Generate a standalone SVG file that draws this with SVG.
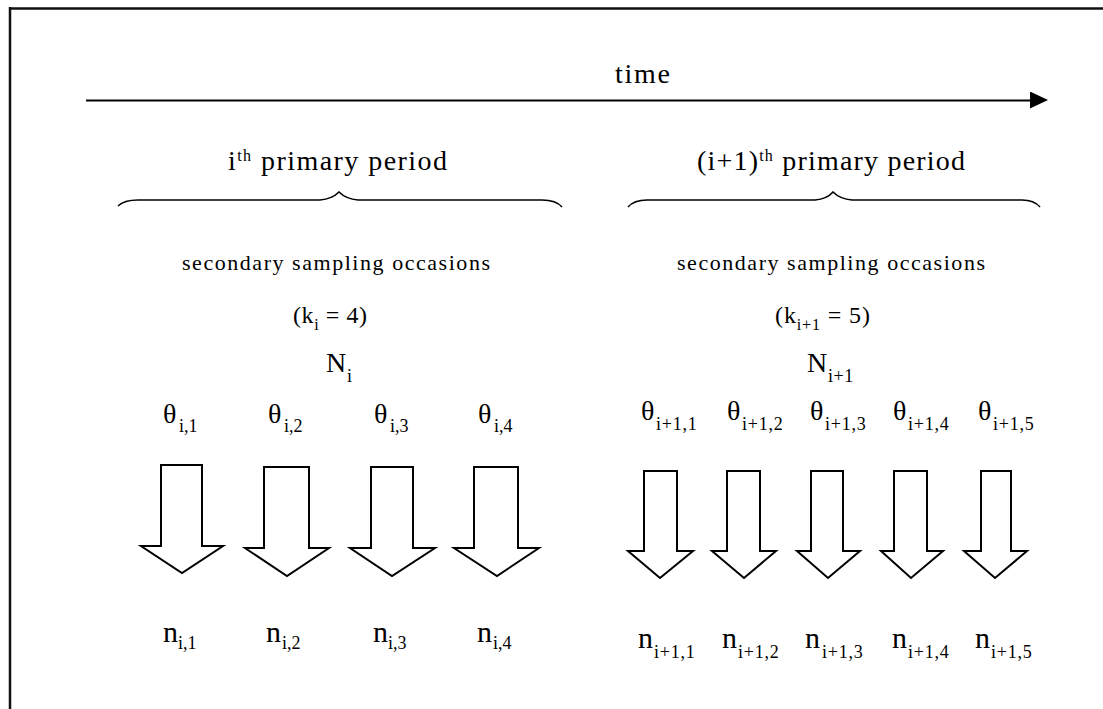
<svg xmlns="http://www.w3.org/2000/svg" width="1103" height="709" viewBox="0 0 1103 709">
  <style>
    text { font-family: "Liberation Serif", "Times New Roman", serif; fill: #000; }
    .hdr { font-size: 28px; }
    .sup { font-size: 16px; }
    .sec { font-size: 22px; }
    .kk { font-size: 24px; }
    .ksub { font-size: 16px; }
    .big { font-size: 30px; }
    .cap { font-size: 28px; }
    .sym { font-size: 28px; }
    .sub { font-size: 18px; }
    .frame { stroke: #111; stroke-width: 2.5; fill: none; }
    .axis { stroke: #000; stroke-width: 2; fill: none; }
    .brace { stroke: #000; stroke-width: 1.6; fill: none; }
    .block { stroke: #000; stroke-width: 2; fill: #fff; stroke-linejoin: miter; }
  </style>
  <defs>
    <marker id="tip" markerUnits="userSpaceOnUse" markerWidth="20" markerHeight="20" refX="2" refY="9" orient="auto">
      <polygon points="0,0 18,8.5 0,17" fill="#000"/>
    </marker>
  </defs>

  <rect width="1103" height="709" fill="#fff"/>

  <!-- frame: top and left edges -->
  <g id="frame">
    <line class="frame" x1="9" y1="8.5" x2="1103" y2="8.5"/>
    <line class="frame" x1="10" y1="7" x2="10" y2="709"/>
  </g>

  <!-- time axis label -->
  <g id="time-label">
    <text class="hdr" x="615" y="83" textLength="55" lengthAdjust="spacing">time</text>
  </g>

  <!-- primary period headings -->
  <g id="period-i">
    <text class="hdr" x="228" y="170" textLength="219" lengthAdjust="spacing">i<tspan class="sup" dy="-9">th</tspan><tspan dy="9"> primary period</tspan></text>
    <path class="brace" d="M118,206 Q124,200 138,200 L320,200 Q332,199 339,192 Q346,199 358,200 L542,200 Q556,200 562,207"/>
  </g>
  <g id="period-i1">
    <text class="hdr" x="697" y="170" textLength="268" lengthAdjust="spacing">(i+1)<tspan class="sup" dy="-9">th</tspan><tspan dy="9"> primary period</tspan></text>
    <path class="brace" d="M628,207 Q634,200 647,200 L815,200 Q827,199 833,192 Q840,199 852,200 L1022,200 Q1034,200 1040,207"/>
  </g>

  <!-- secondary sampling occasions -->
  <g id="secondary-i">
    <text class="sec" x="182" y="270" textLength="308" lengthAdjust="spacing">secondary sampling occasions</text>
    <text class="kk" x="293" y="323" textLength="74" lengthAdjust="spacing">(k<tspan class="ksub" dy="7">i</tspan><tspan dy="-7"> = 4)</tspan></text>
  </g>
  <g id="secondary-i1">
    <text class="sec" x="677" y="270" textLength="308" lengthAdjust="spacing">secondary sampling occasions</text>
    <text class="kk" x="775" y="323" textLength="95" lengthAdjust="spacing">(k<tspan class="ksub" dy="7">i+1</tspan><tspan dy="-7"> = 5)</tspan></text>
  </g>

  <!-- population sizes -->
  <g id="N-i">
    <text class="cap" x="326" y="372">N<tspan class="sub" x="347" y="382">i</tspan></text>
  </g>
  <g id="N-i1">
    <text class="cap" x="807" y="372">N<tspan class="sub" x="828" y="382" letter-spacing="0.5">i+1</tspan></text>
  </g>

  <!-- capture probabilities, period i -->
  <g id="theta-i">
    <text class="sym" x="163" y="423">θ<tspan class="sub" x="179" y="432">i,1</tspan></text>
    <text class="sym" x="268" y="423">θ<tspan class="sub" x="284" y="432">i,2</tspan></text>
    <text class="sym" x="374" y="423">θ<tspan class="sub" x="390" y="432">i,3</tspan></text>
    <text class="sym" x="478" y="423">θ<tspan class="sub" x="494" y="432">i,4</tspan></text>
  </g>
  <!-- capture probabilities, period i+1 -->
  <g id="theta-i1">
    <text class="sym" x="641" y="420">θ<tspan class="sub" x="656" y="430" letter-spacing="0.8">i+1,1</tspan></text>
    <text class="sym" x="727" y="420">θ<tspan class="sub" x="742" y="430" letter-spacing="0.8">i+1,2</tspan></text>
    <text class="sym" x="810" y="420">θ<tspan class="sub" x="825" y="430" letter-spacing="0.8">i+1,3</tspan></text>
    <text class="sym" x="893" y="420">θ<tspan class="sub" x="908" y="430" letter-spacing="0.8">i+1,4</tspan></text>
    <text class="sym" x="978" y="420">θ<tspan class="sub" x="993" y="430" letter-spacing="0.8">i+1,5</tspan></text>
  </g>

  <!-- captured counts, period i -->
  <g id="n-i">
    <text class="big" x="163" y="642">n<tspan class="sub" x="178" y="649">i,1</tspan></text>
    <text class="big" x="266" y="642">n<tspan class="sub" x="282" y="649">i,2</tspan></text>
    <text class="big" x="373" y="642">n<tspan class="sub" x="388" y="649">i,3</tspan></text>
    <text class="big" x="477" y="642">n<tspan class="sub" x="493" y="649">i,4</tspan></text>
  </g>
  <!-- captured counts, period i+1 -->
  <g id="n-i1">
    <text class="big" x="638" y="648">n<tspan class="sub" x="654" y="658" letter-spacing="0.8">i+1,1</tspan></text>
    <text class="big" x="722" y="648">n<tspan class="sub" x="738" y="658" letter-spacing="0.8">i+1,2</tspan></text>
    <text class="big" x="805" y="648">n<tspan class="sub" x="822" y="658" letter-spacing="0.8">i+1,3</tspan></text>
    <text class="big" x="892" y="648">n<tspan class="sub" x="908" y="658" letter-spacing="0.8">i+1,4</tspan></text>
    <text class="big" x="975" y="648">n<tspan class="sub" x="991" y="658" letter-spacing="0.8">i+1,5</tspan></text>
  </g>

  <!-- connectors: time axis and block arrows -->
  <g id="connectors">
    <line class="axis" x1="86" y1="100.5" x2="1032" y2="100.5" marker-end="url(#tip)"/>

    <polygon class="block" points="161,465 202,465 202,546 223,546 182,573 141,546 161,546"/>
    <polygon class="block" points="264,467 309,467 309,548 329,548 287,576 245,548 264,548"/>
    <polygon class="block" points="371,467 413,467 413,548 435,548 392,576 350,548 371,548"/>
    <polygon class="block" points="474,467 518,467 518,548 539,548 497,576 454,548 474,548"/>

    <polygon class="block" points="644,471 677,471 677,551 693,551 660,578 628,551 644,551"/>
    <polygon class="block" points="727,471 760,471 760,551 776,551 744,578 712,551 727,551"/>
    <polygon class="block" points="811,471 843,471 843,551 860,551 828,578 797,551 811,551"/>
    <polygon class="block" points="894,471 927,471 927,551 943,551 911,578 881,551 894,551"/>
    <polygon class="block" points="981,471 1011,471 1011,551 1027,551 995,578 964,551 981,551"/>
  </g>
</svg>
